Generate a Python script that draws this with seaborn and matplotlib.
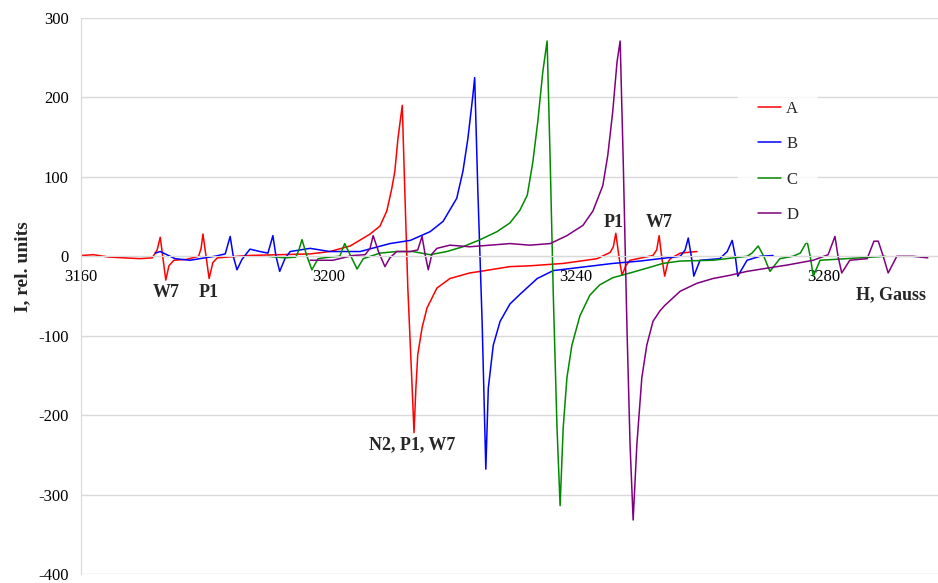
import pandas as pd
import matplotlib
matplotlib.use("Agg")
import matplotlib.pyplot as plt
import seaborn as sns

# EPR spectra, field in Gauss, intensity in rel. units
h_a = [3160.0, 3162.0, 3164.5, 3167.0, 3169.5, 3171.5, 3172.3, 3172.8, 3173.2, 3173.7,
       3174.2, 3175.0, 3177.0, 3179.0, 3179.4, 3179.7, 3180.2, 3180.7, 3181.3, 3182.0,
       3187.0, 3192.0, 3197.0, 3200.2, 3203.5, 3206.7, 3208.3, 3209.4, 3210.2, 3210.7,
       3211.2, 3211.9, 3212.3, 3212.8, 3213.5, 3213.8, 3214.1, 3214.4, 3215.1, 3215.9,
       3217.5, 3219.6, 3222.8, 3224.5, 3229.3, 3232.5, 3237.9, 3243.4, 3245.5, 3246.0,
       3246.4, 3246.9, 3247.4, 3248.0, 3248.7, 3252.4, 3253.0, 3253.4, 3253.8, 3254.3,
       3254.8, 3255.2, 3256.8, 3259.5]
i_a = [1, 2, -1, -2, -3, -2, 8, 24, 0, -30,
       -12, -5, -4, 0, 10, 28, 0, -28, -8, -2,
       1, 2, 3, 6, 13, 28, 38, 57, 85, 107,
       148, 190, 85, -40, -166, -222, -166, -124, -90, -65,
       -40, -28, -21, -19, -13, -12, -9, -3, 5, 12,
       29, 0, -24, -12, -5, 1, 8, 26, 0, -25,
       -8, -3, 4, 6]

h_b = [3172.0, 3172.8, 3175.2, 3177.6, 3181.6, 3183.3, 3184.1, 3184.6, 3185.2, 3186.0,
       3187.3, 3188.9, 3190.2, 3191.0, 3191.5, 3192.1, 3193.0, 3193.8, 3197.0, 3200.2,
       3205.1, 3209.9, 3213.2, 3216.4, 3218.5, 3220.7, 3221.7, 3222.5, 3223.3, 3223.6,
       3224.1, 3224.8, 3225.4, 3225.8, 3226.6, 3227.7, 3229.3, 3230.9, 3233.7, 3236.3,
       3240.6, 3245.9, 3250.3, 3256.8, 3257.6, 3258.1, 3258.6, 3259.0, 3260.0, 3263.2,
       3264.4, 3265.2, 3265.7, 3266.1, 3267.6, 3269.7, 3271.8]
i_b = [4, 6, -3, -5, 0, 3, 25, 0, -17, -4,
       9, 6, 4, 26, 0, -19, -2, 6, 10, 6,
       6, 16, 20, 31, 44, 73, 107, 148, 202, 225,
       85, -82, -268, -166, -112, -82, -60, -48, -28, -18,
       -14, -9, -6, 0, 8, 23, 0, -25, -5, -3,
       6, 20, 0, -25, -5, 0, 1]

h_c = [3190.2, 3193.0, 3194.7, 3195.2, 3195.7, 3196.5, 3197.3, 3198.3, 3200.2, 3201.8,
       3202.6, 3203.6, 3204.6, 3205.6, 3208.3, 3211.0, 3213.6, 3216.4, 3219.1, 3221.7,
       3224.5, 3227.2, 3229.3, 3230.9, 3232.1, 3233.0, 3233.8, 3234.6, 3235.3, 3235.8,
       3236.3, 3236.9, 3237.4, 3237.9, 3238.5, 3239.3, 3240.6, 3242.2, 3243.8, 3245.9,
       3248.7, 3251.4, 3254.0, 3256.8, 3262.1, 3267.6, 3268.4, 3269.4, 3270.3, 3271.3,
       3272.9, 3275.0, 3276.2, 3277.3, 3277.8, 3278.3, 3279.4, 3283.7, 3289.9]
i_c = [0, -2, -1, 8, 21, 0, -17, -3, -1, 0,
       16, 0, -16, -3, 4, 6, 6, 2, 6, 12,
       21, 31, 42, 58, 77, 119, 170, 232, 271, 119,
       -49, -216, -314, -216, -153, -112, -75, -49, -36, -27,
       -21, -15, -9, -6, -5, 0, 4, 13, 0, -19,
       -3, 0, 4, 19, 0, -25, -5, -3, 0]

h_d = [3197.0, 3200.7, 3203.9, 3205.9, 3206.7, 3207.2, 3208.1, 3209.1, 3209.9, 3211.0,
       3213.2, 3214.4, 3215.1, 3215.6, 3216.1, 3216.7, 3217.5, 3219.6, 3222.8, 3226.1,
       3229.3, 3232.5, 3235.8, 3238.5, 3241.1, 3242.7, 3244.3, 3245.1, 3245.9, 3246.6,
       3247.1, 3247.6, 3248.2, 3248.7, 3249.2, 3249.8, 3250.6, 3251.4, 3252.4, 3253.5,
       3254.3, 3256.8, 3259.5, 3262.1, 3264.8, 3267.6, 3270.8, 3274.1, 3278.3, 3280.7,
       3281.8, 3282.3, 3282.9, 3284.2, 3287.0, 3288.1, 3288.8, 3289.6, 3290.4, 3291.8,
       3294.4, 3296.8]
i_d = [-5, -5, 1, 2, 10, 26, 5, -13, -2, 6,
       6, 8, 25, 2, -17, 3, 10, 14, 12, 14,
       16, 14, 16, 26, 39, 57, 89, 127, 182, 245,
       271, 119, -90, -237, -332, -237, -153, -112, -82, -69,
       -62, -44, -34, -28, -24, -19, -15, -11, -5, 2,
       25, 0, -21, -5, -3, 19, 19, 0, -21, 0,
       0, -2]

series_names = ["A", "B", "C", "D"]
colors = ["#ff0000", "#0000ff", "#008a00", "#800080"]

x_ticks = [3160, 3200, 3240, 3280]
y_ticks = [-400, -300, -200, -100, 0, 100, 200, 300]

# line labels: (text, H, I)
peak_labels = [("W7", 3173.7, -46), ("P1", 3180.7, -46), ("N2, P1, W7", 3213.5, -237),
               ("P1", 3246.1, 43), ("W7", 3253.4, 43)]

frames = []
for name, h, i in zip(series_names, [h_a, h_b, h_c, h_d], [i_a, i_b, i_c, i_d]):
    frames.append(pd.DataFrame({"H": h, "I": i, "series": name}))
df = pd.concat(frames, ignore_index=True)

sns.set_style("white")
plt.rcParams["font.family"] = ["Liberation Serif", "DejaVu Serif"]
plt.rcParams["axes.unicode_minus"] = False

fig = plt.figure(figsize=(9.38, 5.83), dpi=100)
ax = fig.add_axes([81 / 938, 9 / 583, 857 / 938, 556 / 583])

sns.lineplot(data=df, x="H", y="I", hue="series", palette=colors, estimator=None,
             sort=False, linewidth=1.1, ax=ax)

ax.set_xlim(3160, 3160 + 857 / 6.19)
ax.set_ylim(-400, 300)
ax.set_xticks(x_ticks)
ax.set_yticks(y_ticks)
ax.yaxis.grid(True, color="#d9d9d9", linewidth=1)
ax.xaxis.grid(False)
ax.set_axisbelow(True)

for side in ["top", "right"]:
    ax.spines[side].set_visible(False)
ax.spines["left"].set_color("#d9d9d9")
ax.spines["bottom"].set_color("#d9d9d9")
ax.spines["bottom"].set_position(("data", 0))
ax.tick_params(axis="both", length=0, labelsize=12, colors="black")
ax.tick_params(axis="x", pad=9)
ax.tick_params(axis="y", pad=9)
ax.set_xlabel("")
ax.set_ylabel("")

for txt, hx, iy in peak_labels:
    ax.text(hx, iy, txt, ha="center", va="center", fontsize=13, fontweight="bold")
ax.text(3290.9, -49, "H, Gauss", ha="center", va="center", fontsize=13, fontweight="bold")
fig.text(23 / 938, 1 - 267 / 583, "I, rel. units", rotation=90, ha="center", va="center",
         fontsize=14, fontweight="bold")

handles, labels = ax.get_legend_handles_labels()
leg = ax.legend(handles, labels, loc="upper left", bbox_to_anchor=(738 / 938, 1 - 81 / 583),
                bbox_transform=fig.transFigure, frameon=True, fancybox=False,
                fontsize=12, handlelength=1.4, handletextpad=0.3, labelspacing=1.16,
                borderpad=1.2, borderaxespad=0)
leg.get_frame().set_facecolor("white")
leg.get_frame().set_edgecolor("none")

plt.savefig("out.png", dpi=100)
plt.close()
